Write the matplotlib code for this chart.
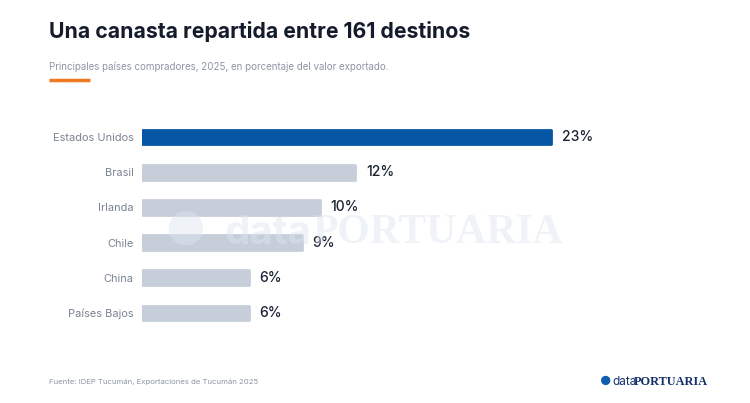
import matplotlib.pyplot as plt
from matplotlib.lines import Line2D

plt.rcParams['font.family'] = ['Inter', 'DejaVu Sans']

paises = ["Estados Unidos", "Brasil", "Irlanda", "Chile", "China", "Países Bajos"]
valores = [23, 12, 10, 9, 6, 6]
etiquetas = ["23%", "12%", "10%", "9%", "6%", "6%"]

azul = "#0556A5"
gris = "#C6CED9"
colores = [azul] + [gris] * (len(paises) - 1)

fig = plt.figure(figsize=(7.5, 4.03), dpi=100)
fig.patch.set_facecolor("white")

# titulo y subtitulo
fig.text(49 / 750, 1 - 31 / 403, "Una canasta repartida entre 161 destinos",
         fontsize=15.3, fontweight="bold", color="#141B2B", va="center", ha="left")
fig.text(49 / 750, 1 - 67 / 403,
         "Principales países compradores, 2025, en porcentaje del valor exportado.",
         fontsize=7.0, color="#8C95A3", va="center", ha="left")
fig.add_artist(Line2D([49 / 750, 90 / 750], [1 - 80 / 403, 1 - 80 / 403],
                      color="#F07A22", lw=2.5, solid_capstyle="butt"))

ax = fig.add_axes([142 / 750, 0.1797, 0.5928, 0.524])
y = list(range(len(paises)))
bars = ax.barh(y, valores, height=0.42, color=colores, edgecolor=colores,
               linewidth=2, joinstyle="round", zorder=2)
ax.set_xlim(0, 25)
ax.set_ylim(len(paises) - 0.5, -0.5)
ax.set_yticks(y)
ax.set_yticklabels(paises, fontsize=7.9, color="#7A8392")
ax.tick_params(axis="y", length=0, pad=6)
ax.set_xticks([])
for s in ax.spines.values():
    s.set_visible(False)

for yi, v, t in zip(y, valores, etiquetas):
    ax.text(v + 0.6, yi, t, va="center", ha="left", fontsize=10,
            fontweight="medium", color="#1A2233")

# marca de agua
fig.text(164 / 750, 1 - 233 / 403, "●", fontsize=33, color="#DCE5F0",
         alpha=0.45, va="center", ha="left", zorder=5)
fig.text(224 / 750, 1 - 233 / 403, "data", fontsize=29, fontweight="bold",
         color="#DCE5F0", alpha=0.45, va="center", ha="left", zorder=5)
fig.text(312 / 750, 1 - 233 / 403, "PORTUARIA", fontsize=30, fontweight="bold",
         family=["Liberation Serif", "DejaVu Serif"], color="#DCE5F0",
         alpha=0.45, va="center", ha="left", zorder=5)

# pie
fig.text(49 / 750, 1 - 382 / 403, "Fuente: IDEP Tucumán, Exportaciones de Tucumán 2025",
         fontsize=5.6, color="#8C95A3", va="center", ha="left")
fig.text(600 / 750, 1 - 382 / 403, "●", fontsize=9, color="#0E5FAF",
         va="center", ha="left")
fig.text(612 / 750, 1 - 382 / 403, "data", fontsize=8.5,
         color="#14306A", va="center", ha="left")
fig.text(634 / 750, 1 - 382 / 403, "PORTUARIA", fontsize=8.8, fontweight="bold",
         family=["Liberation Serif", "DejaVu Serif"],
         color="#14306A", va="center", ha="left")

fig.savefig("out.png", dpi=100, facecolor="white")
